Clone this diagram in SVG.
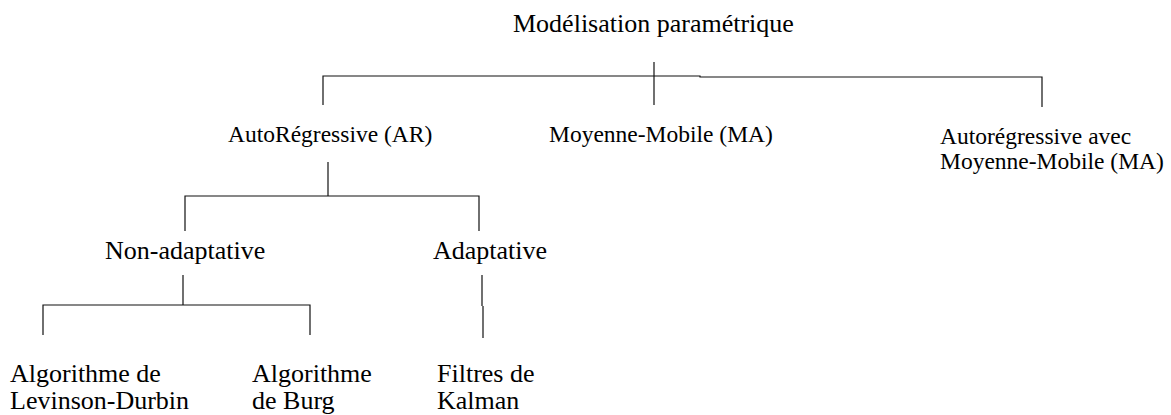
<svg xmlns="http://www.w3.org/2000/svg" width="1171" height="415" viewBox="0 0 1171 415">
  <style>
    .lbl { font-family: "Liberation Serif", "Times New Roman", serif; fill: #000; }
    .t0 { font-size: 26px; }
    .t1 { font-size: 23.5px; }
    .t2 { font-size: 26px; }
    .t3 { font-size: 26px; }
    .wire { stroke: #111; stroke-width: 1.2; fill: none; }
  </style>
  <rect width="1171" height="415" fill="#fff"/>

  <g id="connectors">
    <!-- root to first level -->
    <path class="wire" d="M654 62 V105"/>
    <path class="wire" d="M323 105 V76 H700 V77 H1042 V107"/>
    <!-- AR to adaptive / non-adaptive -->
    <path class="wire" d="M328 162 V196"/>
    <path class="wire" d="M185 231 V196 H479 V231"/>
    <!-- non-adaptive to algorithms -->
    <path class="wire" d="M183 275 V305"/>
    <path class="wire" d="M43 335 V305 H310 V335"/>
    <!-- adaptive to Kalman -->
    <path class="wire" d="M482 275 V306"/>
    <path class="wire" d="M483 306 V338"/>
  </g>

  <g id="root">
    <text class="lbl t0" x="513" y="32">Modélisation paramétrique</text>
  </g>
  <g id="ar">
    <text class="lbl t1" x="228" y="142">AutoRégressive (AR)</text>
  </g>
  <g id="ma">
    <text class="lbl t1" x="549" y="142">Moyenne-Mobile (MA)</text>
  </g>
  <g id="arma">
    <text class="lbl t1" x="940" y="144">Autorégressive avec</text>
    <text class="lbl t1" x="940" y="169">Moyenne-Mobile (MA)</text>
  </g>
  <g id="non-adaptive">
    <text class="lbl t2" x="105" y="259">Non-adaptative</text>
  </g>
  <g id="adaptive">
    <text class="lbl t2" x="433" y="259">Adaptative</text>
  </g>
  <g id="levinson">
    <text class="lbl t3" x="10" y="382">Algorithme de</text>
    <text class="lbl t3" x="10" y="409">Levinson-Durbin</text>
  </g>
  <g id="burg">
    <text class="lbl t3" x="252" y="382">Algorithme</text>
    <text class="lbl t3" x="252" y="409">de Burg</text>
  </g>
  <g id="kalman">
    <text class="lbl t3" x="437" y="382">Filtres de</text>
    <text class="lbl t3" x="437" y="409">Kalman</text>
  </g>
</svg>
